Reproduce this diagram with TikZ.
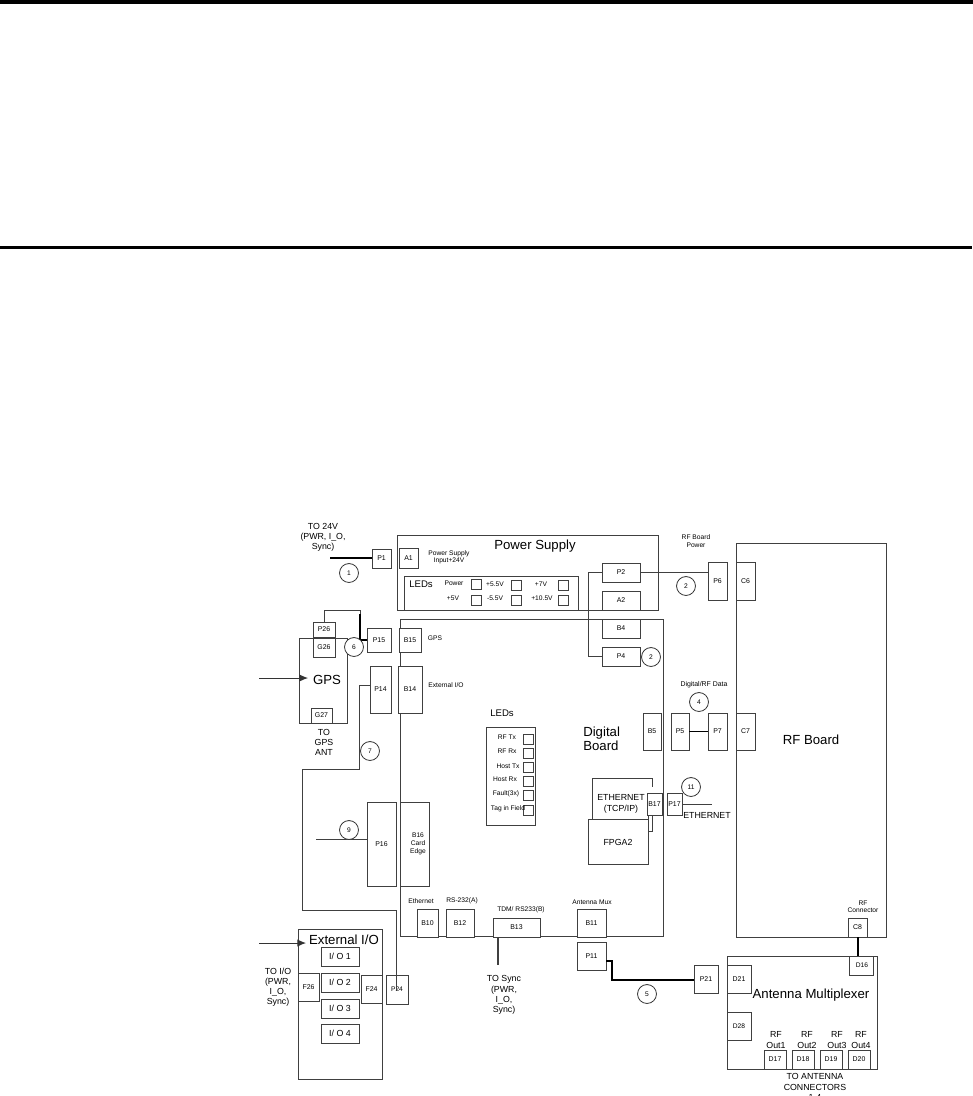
\documentclass[tikz,border=0pt]{standalone}
\usepackage{fontspec}
\setmainfont{Liberation Sans}
\usetikzlibrary{arrows.meta}
\newcommand{\fs}[1]{\fontsize{#1}{#1}\selectfont}
\newcommand{\bx}[6][]{%
  \pgfmathsetlengthmacro{\bw}{(#5-#3)*0.75pt}%
  \pgfmathsetlengthmacro{\bh}{(#6-#4)*0.75pt}%
  \node[bx,minimum width=\bw,minimum height=\bh,#1] (n#2) at ({(#3+#5)/2},{(#4+#6)/2}) {#2};}
\newcommand{\bl}[6][]{%
  \pgfmathsetlengthmacro{\bw}{(#5-#3)*0.75pt}%
  \pgfmathsetlengthmacro{\bh}{(#6-#4)*0.75pt}%
  \node[bx,minimum width=\bw,minimum height=\bh,#1] (#2) at ({(#3+#5)/2},{(#4+#6)/2}) {};}
\tikzset{
  bx/.style={draw=black!75,line width=0.75pt,fill=white,inner sep=0pt,outer sep=0pt,font=\fs{5.2}},
  wire/.style={draw=black!75,line width=0.7pt},
  hwire/.style={draw=black,line width=1.2pt},
  num/.style={circle,draw=black!80,line width=0.6pt,fill=white,minimum size=14.2pt,inner sep=0pt,font=\fs{5}},
  lab/.style={inner sep=0pt,font=\fs{5},align=center},
  mid/.style={inner sep=0pt,font=\fs{6.6},align=center},
  big/.style={inner sep=0pt,font=\fs{9.9},align=center},
  ledb/.style={draw=black!75,line width=0.6pt,fill=white,minimum size=7.4pt,inner sep=0pt,outer sep=0pt},
  hdr/.style={draw=black,line width=2.7pt},
  head/.style={-{Latex[length=6.5pt,width=5.5pt]}}
}
\begin{document}
\begin{tikzpicture}[x=0.75pt,y=-0.75pt]
\useasboundingbox (0,0) rectangle (973,1096);
% header rules
\coordinate (ra) at (0,2); \coordinate (rb) at (973,2);
\coordinate (rc) at (0,247.6); \coordinate (rd) at (972,247.6);
\draw[hdr] (ra)--(rb); \draw[hdr] (rc)--(rd);
% containers
\bl{psu}{397}{535}{658}{610}
\bl{dig}{400}{619}{663}{936}
\bl{rfb}{736}{543}{886}{937}
\bl{mux}{727}{956}{877}{1069}
\bl{gpsb}{299}{638}{347}{723}
\bl{ext}{298}{929}{382}{1079}
\bl{ledp}{404}{576}{578}{610}
\bl{ledd}{486}{727}{535}{825}
% ethernet open box
\coordinate (e1) at (592,819); \coordinate (e2) at (592,778); \coordinate (e3) at (652,778); \coordinate (e4) at (652,787);
\draw[wire] (e1)--(e2)--(e3)--(e4);
\coordinate (e5) at (648,815); \coordinate (e6) at (648,831); \coordinate (e7) at (652,831); \coordinate (e8) at (652,815);
\draw[wire] (e5)--(e6)--(e7)--(e8);
\node[mid] (ethtxt) at (621,804) {ETHERNET\\[1.2pt](TCP/IP)};
\bl{fpga}{588}{819}{648}{864}
\node[mid] (fpgat) at (618,842) {FPGA2};
% titles
\node[big] (t1) at (535,546) {Power Supply};
\node[big] (t2) at (327,680) {GPS};
\node[big,align=left,anchor=west] (t3) at (583,739) {Digital\\[1pt]Board};
\node[big] (t4) at (344,940) {External I/O};
\node[big] (t5) at (811,995) {Antenna Multiplexer};
\node[big] (t6) at (811,740) {RF Board};
% boxes
\bx{P1}{372}{549}{391}{568}
\bx{A1}{399}{548}{418}{568}
\bx{P26}{313}{622}{335}{637}
\bx{G26}{313}{638}{335}{657}
\bx{G27}{311}{708}{332}{723}
\bx{P15}{367}{628}{391}{652}
\bx{B15}{399}{628}{421}{652}
\bx{P14}{370}{666}{391}{713}
\bx{B14}{398}{666}{422}{713}
\bx{P2}{602}{563}{640}{582}
\bx{A2}{602}{591}{640}{610}
\bx{B4}{602}{619}{640}{638}
\bx{P4}{602}{647}{640}{666}
\bx{P6}{708}{562}{727}{600}
\bx{C6}{736}{562}{755}{600}
\bx{B5}{643}{713}{661}{750}
\bx{P5}{671}{713}{689}{750}
\bx{P7}{708}{713}{727}{750}
\bx{C7}{736}{713}{755}{750}
\bx{B17}{647}{793}{662}{815}
\bx{P17}{667}{793}{682}{815}
\bx{P16}{367}{802}{396}{886}
\bl{B16}{400}{802}{429}{886}
\node[lab] (b16t) at (418,844) {B16\\[1.1pt]Card\\[1.1pt]Edge};
\bx{B10}{417}{909}{438}{937}
\bx{B12}{446}{909}{474}{937}
\bx{B13}{493}{918}{540}{937}
\bx{B11}{577}{909}{606}{937}
\bx{P11}{577}{942}{606}{970}
\bx{P21}{694}{965}{718}{993}
\bx{D21}{727}{965}{751}{993}
\bl{D28}{727}{1012}{751}{1040}\node[lab] (d28t) at (739,1026) {D28};
\bx{C8}{848}{918}{867}{937}
\bl{D16}{849}{956}{873}{975}\node[lab] (d16t) at (862,965.5) {D16};
\bx{D17}{764}{1050}{786}{1069}
\bx{D18}{792}{1050}{814}{1069}
\bx{D19}{820}{1050}{842}{1069}
\bx{D20}{848}{1050}{870}{1069}
\bl{io1}{321}{947}{359}{966}\node[mid] (io1t) at (340,956.5) {I/ O 1};
\bl{io2}{321}{973}{359}{992}\node[mid] (io2t) at (340,982.5) {I/ O 2};
\bl{io3}{321}{999}{359}{1018}\node[mid] (io3t) at (340,1008.5) {I/ O 3};
\bl{io4}{321}{1024}{359}{1043}\node[mid] (io4t) at (340,1033.5) {I/ O 4};
\bx{F26}{298}{973}{319}{1001}
\bx{F24}{361}{975}{382}{1003}
\bl{P24}{386}{975}{408}{1004}\node[lab] (p24t) at (397,989) {P24};
% LED squares
\foreach \nm/\xx/\yy in {a/476/584.5,b/476/600,c/516/585,d/516/600,e/563/585,f/563/600}
  \node[ledb] (l\nm) at (\xx,\yy) {};
\foreach \nm/\yy in {g/739,h/753,i/767,j/781,k/795,l/810}
  \node[ledb] (l\nm) at (528,\yy) {};
% small labels
\node[lab] (s1) at (449,557) {Power Supply\\[0.2pt]Input+24V};
\node[mid,font=\fs{7.2}] (s2) at (421,584) {LEDs};
\node[lab] (s3) at (454,583) {Power};
\node[lab] (s4) at (453,598) {+5V};
\node[lab] (s5) at (495,584) {+5.5V};
\node[lab] (s6) at (495,598) {-5.5V};
\node[lab] (s7) at (541,584) {+7V};
\node[lab] (s8) at (542,598) {+10.5V};
\node[lab] (s9) at (696,541) {RF Board\\[0.5pt]Power};
\node[lab,font=\fs{5.2}] (s10) at (704,685) {Digital/RF Data};
\node[lab] (s11) at (435,638) {GPS};
\node[lab] (s12) at (446,685) {External I/O};
\node[mid,font=\fs{7.2}] (s13) at (502,713) {LEDs};
\node[lab] (s14) at (507,737) {RF Tx};
\node[lab] (s15) at (507,751) {RF Rx};
\node[lab] (s16) at (508,766) {Host Tx};
\node[lab] (s17) at (505,779) {Host Rx};
\node[lab] (s18) at (506,794) {Fault(3x)};
\node[lab] (s19) at (508,809) {Tag in Field};
\node[lab] (s20) at (421,901) {Ethernet};
\node[lab] (s21) at (462,901) {RS-232(A)};
\node[lab] (s22) at (521,910) {TDM/ RS233(B)};
\node[lab] (s23) at (592,902) {Antenna Mux};
\node[lab] (s24) at (863,907) {RF\\[0.5pt]Connector};
\node[mid] (s25) at (323,537.5) {TO 24V\\[1pt](PWR, I\_O,\\[1pt]Sync)};
\node[mid] (s26) at (324,742.5) {TO\\[1pt]GPS\\[1pt]ANT};
\node[mid] (s27) at (278,987.5) {TO I/O\\[1pt](PWR,\\[1pt]I\_O,\\[1pt]Sync)};
\node[mid] (s28) at (504,995) {TO Sync\\[1pt](PWR,\\[1pt]I\_O,\\[1pt]Sync)};
\node[mid] (s29) at (707,815) {ETHERNET};
\node[mid] (s30) at (776,1040) {RF\\[1pt]Out1};
\node[mid] (s31) at (807,1040) {RF\\[1pt]Out2};
\node[mid] (s32) at (837,1040) {RF\\[1pt]Out3};
\node[mid] (s33) at (861,1040) {RF\\[1pt]Out4};
\node[mid] (s34) at (815,1087) {TO ANTENNA\\[1pt]CONNECTORS\\[1pt]1-4};
% free ends
\coordinate (f1) at (330,558);
\coordinate (f2) at (259,678);
\coordinate (f3) at (259,943);
\coordinate (f4) at (316,839);
\coordinate (f5) at (712,804);
\coordinate (f6) at (498,965);
\coordinate (f7) at (308,678);
\coordinate (f8) at (306,943);
\coordinate (g1) at (359,685);
% connectors
\draw[hwire] (f1)--(f1 -| nP1.west);
\draw[wire] (nP26.north) |- (360,610) -- (360,614);
\draw[hwire,line width=0.9pt] (360,614) |- (nP15.west);
\draw[wire] (g1 -| nP14.west) -- (g1) -- (359,769) -- (302,769) -- (302,910) -- (396,910) -- (396,990);
\draw[wire] (nP2.east) -- (nP6.west |- nP2.east);
\draw[wire] (nP2.west) -- (588,572.5) -- (588,656.5) -- (nP4.west);
\draw[hwire,line width=0.9pt] (nP5.east) -- (nP7.west |- nP5.east);
\draw[wire] (nP17.east |- f5) -- (f5);
\draw[wire] (f4) -- (f4 -| nP16.west);
\draw[wire,line width=0.8pt] (f6 |- nB13.south) -- (f6);
\draw[hwire] (nP11.east |- 0,961) -- (612,961) -- (612,980) -- (nP21.west |- 0,980);
\draw[hwire,line width=0.9pt] (nC8.south) ++(0.5,0) -- (858,956);
\draw[head,line width=0.7pt,black!80] (f2) -- (f7);
\draw[head,line width=0.7pt,black!80] (f3) -- (f8);
% numbers
\node[num] (c1) at (349,573) {1};
\node[num] (c6) at (354,647) {6};
\node[num] (c7) at (370,751) {7};
\node[num] (c3) at (686,586) {2};
\node[num] (c2) at (651,657) {2};
\node[num] (c4) at (699,702) {4};
\node[num] (c11) at (691,787) {11};
\node[num] (c9) at (349,830) {9};
\node[num] (c5) at (647,994) {5};
\end{tikzpicture}
\end{document}
